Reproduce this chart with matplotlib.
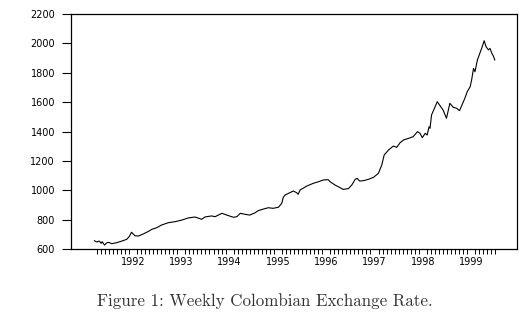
import numpy as np
import matplotlib
matplotlib.use("Agg")
import matplotlib.pyplot as plt
from matplotlib.ticker import FixedLocator, NullFormatter

# decimal year of each traced point
dates = [1991.70, 1991.75, 1991.80, 1991.84, 1991.86, 1991.91, 1991.96, 1992.00,
         1992.06, 1992.16, 1992.27, 1992.37, 1992.42, 1992.47, 1992.51, 1992.54,
         1992.61, 1992.71, 1992.82, 1992.89, 1992.99, 1993.09, 1993.23, 1993.37,
         1993.51, 1993.64, 1993.78, 1993.89, 1993.92, 1993.99, 1994.06, 1994.13,
         1994.20, 1994.34, 1994.44, 1994.58, 1994.65, 1994.72, 1994.82, 1994.92,
         1995.03, 1995.09, 1995.20, 1995.30, 1995.40, 1995.51, 1995.58, 1995.61,
         1995.65, 1995.72, 1995.82, 1995.89, 1995.92, 1995.96, 1996.10, 1996.23,
         1996.34, 1996.44, 1996.54, 1996.58, 1996.68, 1996.79, 1996.85, 1996.96,
         1997.03, 1997.10, 1997.14, 1997.19, 1997.27, 1997.37, 1997.48, 1997.58,
         1997.65, 1997.70, 1997.79, 1997.89, 1997.96, 1998.03, 1998.10, 1998.20,
         1998.30, 1998.39, 1998.44, 1998.49, 1998.55, 1998.59, 1998.63, 1998.65,
         1998.68, 1998.75, 1998.80, 1998.86, 1998.92, 1998.99, 1999.06, 1999.13,
         1999.20, 1999.26, 1999.31, 1999.37, 1999.42, 1999.48, 1999.51, 1999.55,
         1999.58, 1999.63, 1999.68, 1999.73, 1999.77, 1999.81, 1999.86, 1999.89,
         1999.93, 1999.96, 1999.99]
rate = [656, 648, 654, 639, 650, 627, 643, 645,
        636, 643, 654, 666, 684, 714, 700, 690,
        688, 702, 720, 734, 745, 763, 779, 786,
        797, 811, 818, 806, 802, 818, 822, 825,
        820, 843, 831, 816, 820, 843, 836, 831,
        847, 861, 872, 881, 877, 884, 911, 952,
        968, 979, 995, 983, 972, 1002, 1029, 1047,
        1058, 1070, 1072, 1058, 1036, 1017, 1006, 1011,
        1036, 1074, 1081, 1063, 1065, 1074, 1088, 1115,
        1172, 1240, 1274, 1301, 1292, 1324, 1342, 1353,
        1365, 1399, 1388, 1358, 1388, 1376, 1433, 1422,
        1512, 1565, 1603, 1574, 1546, 1490, 1592, 1565,
        1558, 1542, 1580, 1626, 1671, 1705, 1750, 1830,
        1807, 1887, 1932, 1977, 2018, 1977, 1955, 1966,
        1932, 1914, 1887]

year_labels = ["1992", "1993", "1994", "1995", "1996", "1997", "1998", "1999"]
y_ticks = [600, 800, 1000, 1200, 1400, 1600, 1800, 2000, 2200]
caption = "Figure 1: Weekly Colombian Exchange Rate."

fig = plt.figure(figsize=(5.31, 3.25), dpi=100)
ax = fig.add_axes([71/531, 1-249/325, (517-71)/531, (249-14)/325])

ax.plot(dates, rate, color="black", linewidth=0.8)

ax.set_xlim(1991.216, 2000.45)
ax.set_ylim(600, 2200)

ax.set_yticks(y_ticks)
ax.set_yticklabels([str(v) for v in y_ticks])
ax.tick_params(axis="y", direction="out", length=6.5, width=0.8, pad=5,
               labelsize=7)

label_pos = [int(s) + 0.5 for s in year_labels]
ax.xaxis.set_major_locator(FixedLocator(label_pos))
ax.set_xticklabels(year_labels)
ax.tick_params(axis="x", which="major", length=0, pad=6, labelsize=7)
months = [1991.75 + i / 12 for i in range(100)]
ax.xaxis.set_minor_locator(FixedLocator(months))
ax.xaxis.set_minor_formatter(NullFormatter())
ax.tick_params(axis="x", which="minor", direction="out", length=3.8, width=0.7)

for s in ax.spines.values():
    s.set_linewidth(0.9)

fig.text(97/531, 1-301/325, caption, family="cmr10", fontsize=12.2,
         color="#333333", ha="left", va="center")

fig.savefig("out.png", dpi=100)
